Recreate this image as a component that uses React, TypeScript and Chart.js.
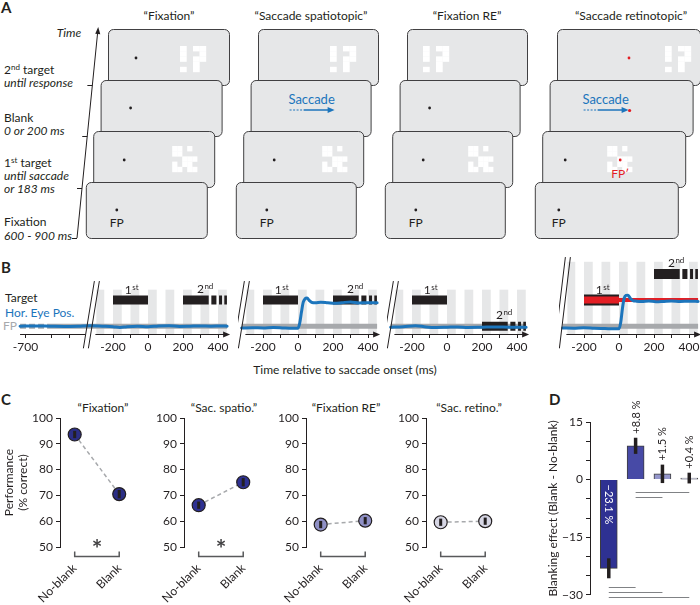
import React, { useEffect, useRef } from "react";
import { Chart, registerables } from "chart.js";
Chart.register(...registerables);

const FONT = "Lato, 'Noto Sans', sans-serif";
const INK = "#231f20";
const BLUE = "#1c75bc";
const RED = "#e31e24";
const FP_GRAY = "#a7a9ac";
const STRIPE = "#e6e7e8";

// ---------------- Panel B data ----------------
const stubTicks = [-700, -550, -450];
const mainTicks = [-200, -100, 0, 100, 200, 300, 400];
const labeledTicks = [-700, -200, 0, 200, 400];
const stripeStarts = [-300, -200, -100, 0, 100, 200, 300, 400];
const stripeDur = 50;
const target1 = [-200, 0];
const target2Segments = [[200, 347], [362, 391], [406, 423], [436, 451]];
const target1Level = [1, 1, 1, 1];
const target2Level = [1, 1, 0, 2];
const fpPrimeLevel = 1;
const traceEnd = 452;

const eyeT_fix = [-731, -650, -560, -480, -400, -330, -260, -200, -160, -120, -60, 0, 60, 120, 180, 240, 300, 360, 420, 452];
const eyeY_fix = [0, 0.01, 0, -0.01, 0, 0.02, 0, -0.02, -0.05, -0.02, 0, -0.02, 0.01, 0.02, -0.01, 0, 0.01, 0, 0.01, 0];
const eyeT_spa = [-322, -260, -200, -140, -80, -30, 0, 10, 20, 30, 40, 52, 65, 80, 100, 130, 170, 210, 250, 300, 350, 400, 452];
const eyeY_spa = [-0.07, -0.06, -0.07, -0.05, -0.07, -0.08, -0.08, 0.12, 0.55, 0.92, 1.05, 1.08, 0.98, 0.91, 0.9, 0.92, 0.9, 0.88, 0.9, 0.93, 0.89, 0.9, 0.9];
const eyeT_fre = [-322, -250, -180, -120, -60, 0, 60, 120, 200, 280, 360, 452];
const eyeY_fre = [-0.04, -0.02, 0.02, -0.03, -0.05, -0.04, -0.03, -0.05, -0.04, -0.03, -0.04, -0.04];
const eyeT_ret = [-322, -260, -200, -140, -80, -30, 0, 10, 20, 30, 40, 52, 65, 80, 100, 130, 170, 210, 250, 300, 350, 400, 452];
const eyeY_ret = [-0.07, -0.08, -0.06, -0.08, -0.09, -0.1, -0.1, 0.15, 0.7, 1.08, 1.18, 1.19, 1.06, 0.98, 0.96, 0.95, 0.97, 0.94, 0.95, 0.97, 0.95, 0.96, 0.95];
const eyeT = [eyeT_fix, eyeT_spa, eyeT_fre, eyeT_ret];
const eyeY = [eyeY_fix, eyeY_spa, eyeY_fre, eyeY_ret];

// ---------------- Panel C data ----------------
const cTitles = ["\u201cFixation\u201d", "\u201cSac. spatio.\u201d", "\u201cFixation RE\u201d", "\u201cSac. retino.\u201d"];
const cCategories = ["No-blank", "Blank"];
const perfNoBlank = [93.6, 66.2, 58.7, 59.6];
const perfBlank = [70.5, 75.1, 60.2, 60.0];
const errNoBlank = [1.4, 1.4, 1.4, 1.4];
const errBlank = [1.6, 1.6, 1.4, 1.4];
const significant = [true, true, false, false];
const cTicks = [50, 60, 70, 80, 90, 100];
const cColors = ["#2b2e85", "#2e3192", "#8f90c6", "#d6d6e4"];

// ---------------- Panel D data ----------------
const dEffects = [-23.1, 8.8, 1.5, 0.4];
const dErr = [2.6, 2.1, 2.4, 1.4];
const dLabels = ["\u221223.1 %", "+8.8 %", "+1.5 %", "+0.4 %"];
const dColors = ["#2e3192", "#474aa6", "#9597cc", "#d3d4e6"];
const dTicks = [-30, -25, -20, -15, -10, -5, 0, 5, 10, 15];
const dLabeledTicks = [-30, -15, 0, 15];
const sigFrom = [1, 1, 0, 0, 0];
const sigTo = [3, 2, 1, 2, 3];
const sigY = [-3.3, -4.6, -28.0, -29.3, -30.6];

// ---------------- layout ----------------
const B_PX_PER_MS = 0.175;
const bGeom = [
  { left: 8, width: 228, zero: 148 },
  { left: 238, width: 150, zero: 298 },
  { left: 387, width: 150, zero: 447 },
  { left: 559, width: 150, zero: 619 },
];
const BREAK_MS = -335;
const cAxisX = [60, 184, 306, 426];

function drawOrd(ctx: CanvasRenderingContext2D, cx: number, baseY: number, n: string, suf: string) {
  ctx.font = `12px ${FONT}`;
  const w1 = ctx.measureText(n).width;
  ctx.font = `8px ${FONT}`;
  const w2 = ctx.measureText(suf).width;
  const x0 = cx - (w1 + w2) / 2;
  ctx.fillStyle = INK;
  ctx.textAlign = "left";
  ctx.textBaseline = "alphabetic";
  ctx.font = `12px ${FONT}`;
  ctx.fillText(n, x0, baseY);
  ctx.font = `8px ${FONT}`;
  ctx.fillText(suf, x0 + w1 + 0.5, baseY - 4);
}

function bConfig(i: number): any {
  const g = bGeom[i];
  const xmin = (g.left - g.zero) / B_PX_PER_MS;
  const xmax = xmin + g.width / B_PX_PER_MS;
  const base = { pointRadius: 0, fill: false, spanGaps: false, borderCapStyle: "butt", tension: 0 };
  const datasets: any[] = [];
  const start = eyeT[i][0];
  const fpData = i === 0
    ? [{ x: start, y: 0 }, { x: -560, y: 0 }, { x: traceEnd, y: 0 }]
    : [{ x: start, y: 0 }, { x: traceEnd, y: 0 }];
  datasets.push({
    ...base, data: fpData, borderColor: FP_GRAY, borderWidth: 5, order: 9,
    segment: { borderDash: (c: any) => (i === 0 && c.p0DataIndex === 0 ? [6, 3] : []) },
  });
  const t1 = [{ x: target1[0], y: target1Level[i] }, { x: target1[1], y: target1Level[i] }];
  if (i === 3) {
    datasets.push({ ...base, data: [{ x: target1[0], y: fpPrimeLevel }, { x: traceEnd, y: fpPrimeLevel }], borderColor: RED, borderWidth: 4, order: 6 });
    datasets.push({ ...base, data: t1, borderColor: INK, borderWidth: 11, order: 8 });
    datasets.push({ ...base, data: t1, borderColor: RED, borderWidth: 7, order: 7 });
  } else {
    datasets.push({ ...base, data: t1, borderColor: INK, borderWidth: 9, order: 8 });
  }
  const t2: any[] = [];
  target2Segments.forEach(([a, b], k) => {
    if (k > 0) t2.push({ x: (a + target2Segments[k - 1][1]) / 2, y: null });
    t2.push({ x: a, y: target2Level[i] }, { x: b, y: target2Level[i] });
  });
  datasets.push({ ...base, data: t2, borderColor: INK, borderWidth: i === 3 ? 10 : 9, order: 5 });
  datasets.push({
    ...base, data: eyeT[i].map((t, k) => ({ x: t, y: eyeY[i][k] })), borderColor: BLUE, borderWidth: 3,
    cubicInterpolationMode: "monotone", borderCapStyle: "round", order: 1,
  });

  const tickVals = i === 0 ? [...stubTicks, ...mainTicks] : mainTicks;

  const deco = {
    id: "bdeco" + i,
    beforeDatasetsDraw(chart: any) {
      const { ctx, chartArea } = chart;
      const x = chart.scales.x, y = chart.scales.y;
      ctx.save();
      ctx.fillStyle = STRIPE;
      const top = y.getPixelForValue(i === 3 ? 2.47 : 1.4);
      const clipL = x.getPixelForValue(BREAK_MS) + 7;
      const bottom = chartArea.bottom;
      for (const s of stripeStarts) {
        const a = Math.max(x.getPixelForValue(s), clipL);
        const b = x.getPixelForValue(s + stripeDur);
        if (b > a) ctx.fillRect(a, top, b - a, bottom - top);
      }
      ctx.restore();
    },
    afterDatasetsDraw(chart: any) {
      const { ctx, chartArea } = chart;
      const x = chart.scales.x, y = chart.scales.y;
      ctx.save();
      const ay = Math.round(chartArea.bottom) + 0.5;
      ctx.strokeStyle = INK;
      ctx.fillStyle = INK;
      ctx.lineWidth = 1;
      ctx.beginPath();
      const xb = x.getPixelForValue(BREAK_MS);
      ctx.moveTo(xb + 6, ay);
      const xe = x.getPixelForValue(traceEnd);
      ctx.lineTo(xe - 2, ay);
      if (i === 0) {
        ctx.moveTo(x.getPixelForValue(eyeT[0][0]), ay);
        ctx.lineTo(xb - 4, ay);
      }
      ctx.stroke();
      ctx.beginPath();
      ctx.moveTo(xe + 3, ay);
      ctx.lineTo(xe - 4, ay - 3);
      ctx.lineTo(xe - 4, ay + 3);
      ctx.closePath();
      ctx.fill();
      // break marks
      const yTop = y.getPixelForValue(i === 3 ? 2.65 : 1.73);
      const yBot = y.getPixelForValue(-0.85);
      ctx.lineWidth = 1;
      ctx.beginPath();
      ctx.moveTo(xb + 5, yTop); ctx.lineTo(xb - 6, yBot);
      ctx.moveTo(xb + 10, yTop); ctx.lineTo(xb - 1, yBot);
      ctx.stroke();
      // ordinals
      drawOrd(ctx, x.getPixelForValue(-95), y.getPixelForValue(target1Level[i]) - 6.5, "1", "st");
      drawOrd(ctx, x.getPixelForValue(325), y.getPixelForValue(target2Level[i]) - 7, "2", "nd");
      ctx.restore();
    },
  };

  return {
    type: "line",
    data: { datasets },
    options: {
      responsive: false, animation: false, events: [],
      layout: { padding: { top: 11, left: 0, right: 0, bottom: 0 } },
      plugins: { legend: { display: false }, tooltip: { enabled: false } },
      scales: {
        x: {
          type: "linear", min: xmin, max: xmax,
          afterBuildTicks: (s: any) => { s.ticks = tickVals.map((v) => ({ value: v })); },
          afterFit: (s: any) => { s.height = 26; },
          grid: { display: true, drawOnChartArea: false, drawTicks: true, tickLength: 4, color: INK },
          border: { display: false },
          ticks: {
            autoSkip: false, maxRotation: 0, padding: 2, color: INK,
            font: { family: FONT, size: 12 },
            callback: (v: number) => (labeledTicks.includes(v) ? String(v) : ""),
          },
        },
        y: { type: "linear", min: -0.3, max: 2.5, display: false },
      },
    },
    plugins: [deco],
  };
}

function cConfig(i: number): any {
  const yw = i === 0 ? 60 : 45;
  const deco = {
    id: "cdeco" + i,
    afterDatasetsDraw(chart: any) {
      const { ctx, chartArea } = chart;
      const x = chart.scales.x, y = chart.scales.y;
      ctx.save();
      ctx.strokeStyle = INK;
      ctx.lineWidth = 3;
      const vals = [perfNoBlank[i], perfBlank[i]];
      const errs = [errNoBlank[i], errBlank[i]];
      vals.forEach((v, k) => {
        const px = x.getPixelForValue(k);
        ctx.beginPath();
        ctx.moveTo(px, y.getPixelForValue(v - errs[k]));
        ctx.lineTo(px, y.getPixelForValue(v + errs[k]));
        ctx.stroke();
      });
      const by = Math.round(chartArea.bottom + 9) + 0.5;
      ctx.strokeStyle = "#58595b";
      ctx.lineWidth = 1.5;
      ctx.beginPath();
      ctx.moveTo(x.getPixelForValue(0), by - 5);
      ctx.lineTo(x.getPixelForValue(0), by);
      ctx.lineTo(x.getPixelForValue(1), by);
      ctx.lineTo(x.getPixelForValue(1), by - 5);
      ctx.stroke();
      if (significant[i]) {
        ctx.fillStyle = "#414042";
        ctx.font = `bold 25px ${FONT}`;
        ctx.textAlign = "center";
        ctx.textBaseline = "alphabetic";
        ctx.fillText("*", x.getPixelForValue(0.5), chartArea.bottom + 11);
      }
      ctx.restore();
    },
  };
  return {
    type: "scatter",
    data: {
      datasets: [{
        data: [{ x: 0, y: perfNoBlank[i] }, { x: 1, y: perfBlank[i] }],
        showLine: true, borderColor: FP_GRAY, borderWidth: 1.5, borderDash: [4, 3],
        pointRadius: 6.5, pointBackgroundColor: cColors[i], pointBorderColor: INK, pointBorderWidth: 1.2,
      }],
    },
    options: {
      responsive: false, animation: false, events: [],
      layout: { padding: { top: 18, left: 0, right: 0, bottom: 0 } },
      plugins: { legend: { display: false }, tooltip: { enabled: false } },
      scales: {
        x: {
          type: "linear", min: -0.33, max: 1.35,
          afterBuildTicks: (s: any) => { s.ticks = [{ value: 0 }, { value: 1 }]; },
          afterFit: (s: any) => { s.height = 58; },
          grid: { display: false, drawTicks: false },
          border: { display: false },
          ticks: {
            autoSkip: false, minRotation: 45, maxRotation: 45, padding: 14, color: INK,
            font: { family: FONT, size: 12 },
            callback: (v: number) => cCategories[v] ?? "",
          },
        },
        y: {
          type: "linear", min: 50, max: 100,
          afterBuildTicks: (s: any) => { s.ticks = cTicks.map((v) => ({ value: v })); },
          afterFit: (s: any) => { s.width = yw; },
          grid: { display: true, drawOnChartArea: false, drawTicks: true, tickLength: 4, color: INK },
          border: { display: true, color: INK, width: 1 },
          ticks: { padding: 3, color: INK, font: { family: FONT, size: 12 } },
          title: {
            display: i === 0, text: ["Performance", "(% correct)"], color: INK,
            font: { family: FONT, size: 12 }, padding: { top: 2, bottom: 0 },
          },
        },
      },
    },
    plugins: [deco],
  };
}

function dConfig(): any {
  const deco = {
    id: "ddeco",
    afterDatasetsDraw(chart: any) {
      const { ctx } = chart;
      const x = chart.scales.x, y = chart.scales.y;
      ctx.save();
      ctx.strokeStyle = INK;
      ctx.lineWidth = 3.5;
      dEffects.forEach((v, k) => {
        const px = x.getPixelForValue(k);
        ctx.beginPath();
        ctx.moveTo(px, y.getPixelForValue(v - dErr[k]));
        ctx.lineTo(px, y.getPixelForValue(v + dErr[k]));
        ctx.stroke();
      });
      ctx.font = `11px ${FONT}`;
      ctx.textBaseline = "middle";
      ctx.textAlign = "left";
      dEffects.forEach((v, k) => {
        const px = x.getPixelForValue(k);
        ctx.save();
        if (v < 0) {
          ctx.fillStyle = "#ffffff";
          ctx.translate(px, y.getPixelForValue(0) + 5);
          ctx.rotate(Math.PI / 2);
        } else {
          ctx.fillStyle = INK;
          ctx.translate(px + 0.5, y.getPixelForValue(v + dErr[k]) - 4);
          ctx.rotate(-Math.PI / 2);
        }
        ctx.fillText(dLabels[k], 0, 0);
        ctx.restore();
      });
      ctx.strokeStyle = "#808285";
      ctx.lineWidth = 1;
      sigFrom.forEach((f, k) => {
        const py = Math.round(y.getPixelForValue(sigY[k])) + 0.5;
        ctx.beginPath();
        ctx.moveTo(x.getPixelForValue(f), py);
        ctx.lineTo(x.getPixelForValue(sigTo[k]), py);
        ctx.stroke();
      });
      ctx.restore();
    },
  };
  return {
    type: "bar",
    data: {
      datasets: [{
        data: dEffects.map((v, k) => ({ x: k, y: v })),
        backgroundColor: dColors, borderColor: "#3d3d3d", borderWidth: 1, barThickness: 17,
      }],
    },
    options: {
      responsive: false, animation: false, events: [],
      layout: { padding: { top: 22, left: 0, right: 0, bottom: 7 } },
      plugins: { legend: { display: false }, tooltip: { enabled: false } },
      scales: {
        x: { type: "linear", min: -0.7, max: 3.4, offset: false, display: false },
        y: {
          type: "linear", min: -30, max: 15,
          afterBuildTicks: (s: any) => { s.ticks = dTicks.map((v) => ({ value: v })); },
          afterFit: (s: any) => { s.width = 50; },
          grid: { display: true, drawOnChartArea: false, drawTicks: true, tickLength: 4, color: INK },
          border: { display: true, color: INK, width: 1 },
          ticks: {
            padding: 3, color: INK, font: { family: FONT, size: 12 },
            callback: (v: number) => (dLabeledTicks.includes(Math.round(v)) ? String(Math.round(v)).replace("-", "\u2212") : ""),
          },
          title: {
            display: true, text: "Blanking effect (Blank - No-blank)", color: INK,
            font: { family: FONT, size: 12 }, padding: { top: 6, bottom: 0 },
          },
        },
      },
    },
    plugins: [deco],
  };
}

function ChartBox(props: { left: number; top: number; width: number; height: number; make: () => any }) {
  const ref = useRef<HTMLCanvasElement>(null);
  useEffect(() => {
    const c = new Chart(ref.current as HTMLCanvasElement, props.make());
    return () => c.destroy();
  }, []);
  return (
    <div style={{ position: "absolute", left: props.left, top: props.top, width: props.width, height: props.height }}>
      <canvas ref={ref} width={props.width} height={props.height} style={{ display: "block", width: props.width, height: props.height }} />
    </div>
  );
}

// ---------------- Panel A (schematic) ----------------
const PAT_2ND = ["X.XX", "X..X", "X.XX", "..X.", "X.X."];
const PAT_1ST = ["XX.X.", "XX...", "..XXX", "X.XX.", "XX.XX"];

function Pattern(p: { x: number; y: number; rows: string[]; cw: number; ch: number }) {
  const out: any[] = [];
  p.rows.forEach((r, ri) =>
    r.split("").forEach((c, ci) => {
      if (c === "X") out.push(<rect key={ri + "-" + ci} x={p.x + ci * p.cw} y={p.y + ri * p.ch} width={p.cw + 0.2} height={p.ch + 0.2} fill="#fff" />);
    })
  );
  return <g>{out}</g>;
}

const colLefts = [108, 258, 407, 557];
const colWidths = [121, 120, 120, 143];
const rowTops = [29, 80, 131, 182];
const rowShift = 7.4;
const RECT_H = 56;

function Dot(p: { x: number; y: number; c?: string }) {
  return <circle cx={p.x} cy={p.y} r={1.4} fill={p.c || INK} />;
}

function SaccadeArrow(p: { x: number; y: number; red?: boolean }) {
  return (
    <g>
      <text x={p.x + 22} y={p.y} fontSize={13} fill={BLUE} textAnchor="middle" fontFamily={FONT}>Saccade</text>
      <line x1={p.x} y1={p.y + 6} x2={p.x + 14} y2={p.y + 6} stroke={BLUE} strokeWidth={1.2} strokeDasharray="2,1.5" />
      <line x1={p.x + 14} y1={p.y + 6} x2={p.x + 40} y2={p.y + 6} stroke={BLUE} strokeWidth={1.5} />
      <polygon points={`${p.x + 45},${p.y + 6} ${p.x + 38},${p.y + 3} ${p.x + 38},${p.y + 9}`} fill={BLUE} />
      {p.red ? <circle cx={p.x + 46} cy={p.y + 6.5} r={1.6} fill={RED} /> : null}
    </g>
  );
}

const cTitlesA = ["\u201cFixation\u201d", "\u201cSaccade spatiotopic\u201d", "\u201cFixation RE\u201d", "\u201cSaccade retinotopic\u201d"];
const aTitleX = [169, 311, 467, 631];
const cTitleX = [103, 224, 346, 469];

function PanelA() {
  const screens: any[] = [];
  for (let c = 0; c < 4; c++) {
    for (let r = 0; r < 4; r++) {
      const x = colLefts[c] - r * rowShift;
      const y = rowTops[r];
      screens.push(
        <rect key={`s${c}${r}`} x={x + 0.5} y={y + 0.5} width={colWidths[c]} height={RECT_H} rx={5} fill="#e6e7e8" stroke="#414042" strokeWidth={1} />
      );
      const L = x;
      if (r === 0) {
        if (c === 0) { screens.push(<Dot key={`d${c}${r}`} x={L + 28} y={58} />); screens.push(<Pattern key={`p${c}${r}`} x={L + 72} y={46} rows={PAT_2ND} cw={6.5} ch={5.2} />); }
        if (c === 1) screens.push(<Pattern key={`p${c}${r}`} x={L + 72} y={46} rows={PAT_2ND} cw={6.5} ch={5.2} />);
        if (c === 2) screens.push(<Pattern key={`p${c}${r}`} x={L + 16} y={46} rows={PAT_2ND} cw={6.5} ch={5.2} />);
        if (c === 3) { screens.push(<Dot key={`d${c}${r}`} x={L + 72} y={58} c={RED} />); screens.push(<Pattern key={`p${c}${r}`} x={L + 108} y={46} rows={PAT_2ND} cw={6.5} ch={5.2} />); }
      }
      if (r === 1) {
        if (c === 0 || c === 2) screens.push(<Dot key={`d${c}${r}`} x={L + 30} y={108} />);
        if (c === 1) screens.push(<SaccadeArrow key={`a${c}${r}`} x={L + 39} y={104} />);
        if (c === 3) screens.push(<SaccadeArrow key={`a${c}${r}`} x={L + 34} y={104} red />);
      }
      if (r === 2) {
        const dx = c === 3 ? 23 : 31;
        screens.push(<Dot key={`d${c}${r}`} x={L + dx} y={160} />);
        const px = c === 3 ? 65 : c === 2 ? 76 : 79;
        screens.push(<Pattern key={`p${c}${r}`} x={L + px} y={146} rows={PAT_1ST} cw={5} ch={5.2} />);
        if (c === 3) {
          screens.push(<Dot key={`r${c}${r}`} x={L + 78} y={160} c={RED} />);
          screens.push(<text key={`t${c}${r}`} x={L + 78} y={178} fontSize={12} fill={RED} textAnchor="middle" fontFamily={FONT}>FP{"\u2032"}</text>);
        }
      }
      if (r === 3) {
        const dx = c === 3 ? 24 : 31;
        screens.push(<Dot key={`d${c}${r}`} x={L + dx} y={210} />);
        screens.push(<text key={`t${c}${r}`} x={L + dx} y={227} fontSize={12} fill={INK} textAnchor="middle" fontFamily={FONT}>FP</text>);
      }
    }
  }
  const lineX = (yy: number) => 77 + (238 - yy) * (21 / 209);
  const tickYs = [238, 188, 136, 85];
  return (
    <g>
      <text x={1} y={13} fontSize={15} fontWeight="bold" fill={INK} fontFamily={FONT}>A</text>
      {cTitlesA.map((t, k) => (
        <text key={t} x={aTitleX[k]} y={20} fontSize={12} textAnchor="middle" fill={INK} fontFamily={FONT}>{t}</text>
      ))}
      <line x1={77} y1={238} x2={97.6} y2={33} stroke={INK} strokeWidth={1} />
      <polygon points="98.2,27 100.3,34.3 95.2,33.8" fill={INK} />
      {tickYs.map((ty) => (
        <line key={ty} x1={lineX(ty) - 5} y1={ty + 0.5} x2={lineX(ty)} y2={ty + 0.5} stroke={INK} strokeWidth={1} />
      ))}
      <text x={69} y={37} fontSize={12} fontStyle="italic" fill={INK} fontFamily={FONT} textAnchor="middle">Time</text>
      <text x={4} y={74} fontSize={12} fill={INK} fontFamily={FONT}>2<tspan fontSize={8} dy={-4}>nd</tspan><tspan dy={4}> target</tspan></text>
      <text x={4} y={87} fontSize={12} fontStyle="italic" fill={INK} fontFamily={FONT}>until response</text>
      <text x={4} y={122} fontSize={12} fill={INK} fontFamily={FONT}>Blank</text>
      <text x={4} y={135} fontSize={12} fontStyle="italic" fill={INK} fontFamily={FONT}>0 or 200 ms</text>
      <text x={4} y={167} fontSize={12} fill={INK} fontFamily={FONT}>1<tspan fontSize={8} dy={-4}>st</tspan><tspan dy={4}> target</tspan></text>
      <text x={4} y={180} fontSize={12} fontStyle="italic" fill={INK} fontFamily={FONT}>until saccade</text>
      <text x={4} y={193} fontSize={12} fontStyle="italic" fill={INK} fontFamily={FONT}>or 183 ms</text>
      <text x={4} y={226} fontSize={12} fill={INK} fontFamily={FONT}>Fixation</text>
      <text x={4} y={240} fontSize={12} fontStyle="italic" fill={INK} fontFamily={FONT}>600 - 900 ms</text>
      {screens}
    </g>
  );
}

export default function App() {
  return (
    <div style={{ position: "absolute", left: 0, top: 0, width: 700, height: 605, overflow: "hidden", background: "#fff", fontFamily: FONT }}>
      <svg width={700} height={605} style={{ position: "absolute", left: 0, top: 0 }}>
        <PanelA />
        <text x={1} y={273} fontSize={15} fontWeight="bold" fill={INK} fontFamily={FONT}>B</text>
        <text x={5} y={302} fontSize={12} fill={INK} fontFamily={FONT}>Target</text>
        <text x={5} y={317} fontSize={12} fill={BLUE} fontFamily={FONT}>Hor. Eye Pos.</text>
        <text x={3} y={330} fontSize={12} fill={FP_GRAY} fontFamily={FONT}>FP</text>
        <text x={345} y={374} fontSize={12} fill={INK} fontFamily={FONT} textAnchor="middle">Time relative to saccade onset (ms)</text>
        <text x={1} y={405} fontSize={15} fontWeight="bold" fill={INK} fontFamily={FONT}>C</text>
        <text x={549} y={405} fontSize={15} fontWeight="bold" fill={INK} fontFamily={FONT}>D</text>
        {cTitles.map((t, k) => (
          <text key={t} x={cTitleX[k]} y={412} fontSize={12} fill={INK} fontFamily={FONT} textAnchor="middle">{t}</text>
        ))}
      </svg>
      {bGeom.map((g, i) => (
        <ChartBox key={"b" + i} left={g.left} top={250} width={g.width} height={110} make={() => bConfig(i)} />
      ))}
      {cAxisX.map((ax, i) => {
        const yw = i === 0 ? 60 : 45;
        return <ChartBox key={"c" + i} left={ax - yw} top={400} width={yw + 85} height={205} make={() => cConfig(i)} />;
      })}
      <ChartBox left={540} top={400} width={160} height={205} make={() => dConfig()} />
    </div>
  );
}
